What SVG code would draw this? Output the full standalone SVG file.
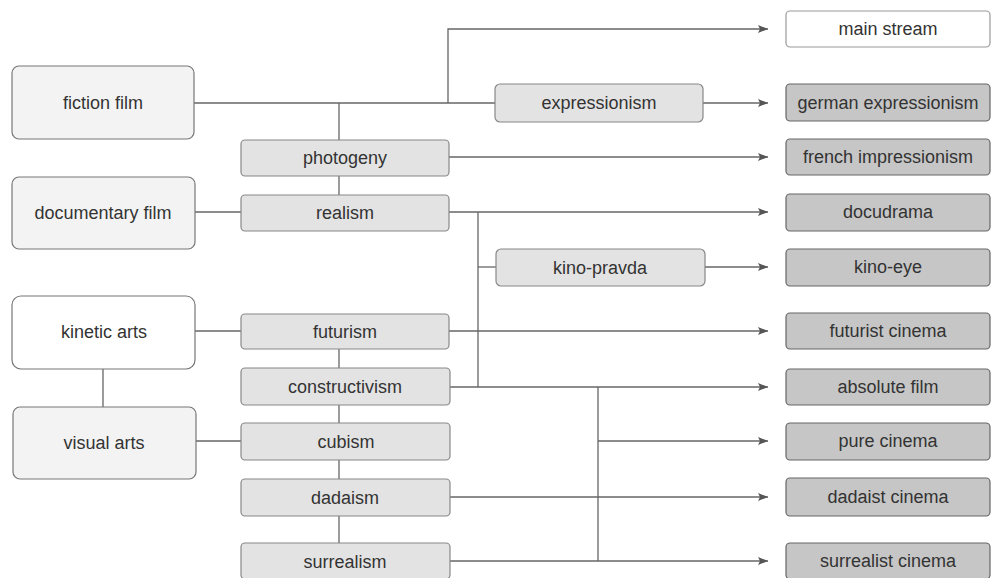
<svg xmlns="http://www.w3.org/2000/svg" width="995" height="578" viewBox="0 0 995 578">
<style>
text{font-family:"Liberation Sans",Arial,sans-serif;font-size:18px;fill:#333;text-anchor:middle;dominant-baseline:central}
.src rect{fill:#f3f3f3;stroke:#777;stroke-width:1.2}
.white rect{fill:#fff}
.mid rect{fill:#e3e3e3;stroke:#888;stroke-width:1.2}
.out rect{fill:#c6c6c6;stroke:#666;stroke-width:1.2}
.outw rect{fill:#fff;stroke:#999;stroke-width:1.2}
#connectors path{fill:none;stroke:#666;stroke-width:1.3}
</style>
<defs>
<marker id="arr" viewBox="0 0 10 8" refX="10" refY="4" markerWidth="10" markerHeight="8" markerUnits="userSpaceOnUse" orient="auto">
<path d="M0,0 L10,4 L0,8 L2,4 Z" fill="#555"/>
</marker>
</defs>
<rect width="995" height="578" fill="#fff"/>
<g id="connectors">
<path d="M194,103 H495"/>
<path d="M448,103 V29 H768" marker-end="url(#arr)"/>
<path d="M703,103 H768" marker-end="url(#arr)"/>
<path d="M339,103 V140"/>
<path d="M339,176 V195"/>
<path d="M449,157 H768" marker-end="url(#arr)"/>
<path d="M195,212 H241"/>
<path d="M449,212 H768" marker-end="url(#arr)"/>
<path d="M478,212 V387"/>
<path d="M478,267 H496"/>
<path d="M705,267 H768" marker-end="url(#arr)"/>
<path d="M195,331 H241"/>
<path d="M449,331 H768" marker-end="url(#arr)"/>
<path d="M339,349 V368"/>
<path d="M103,369 V407"/>
<path d="M450,387 H768" marker-end="url(#arr)"/>
<path d="M339,405 V423"/>
<path d="M196,441 H241"/>
<path d="M598,387 V561"/>
<path d="M598,441 H768" marker-end="url(#arr)"/>
<path d="M339,460 V479"/>
<path d="M450,497 H768" marker-end="url(#arr)"/>
<path d="M339,516 V543"/>
<path d="M450,561 H768" marker-end="url(#arr)"/>
</g>
<g id="fiction-film" class="src"><rect x="12" y="66" width="182" height="73" rx="7"/><text x="103" y="103">fiction film</text></g>
<g id="documentary-film" class="src"><rect x="12" y="177" width="183" height="72" rx="7"/><text x="103" y="213">documentary film</text></g>
<g id="kinetic-arts" class="src white"><rect x="12" y="296" width="183" height="73" rx="9"/><text x="104" y="332">kinetic arts</text></g>
<g id="visual-arts" class="src"><rect x="13" y="407" width="183" height="72" rx="7"/><text x="104" y="443">visual arts</text></g>

<g id="photogeny" class="mid"><rect x="241" y="140" width="208" height="36" rx="4"/><text x="345" y="158">photogeny</text></g>
<g id="realism" class="mid"><rect x="241" y="195" width="208" height="36" rx="4"/><text x="345" y="213">realism</text></g>
<g id="futurism" class="mid"><rect x="241" y="314" width="208" height="35" rx="4"/><text x="345" y="332">futurism</text></g>
<g id="constructivism" class="mid"><rect x="241" y="368" width="209" height="37" rx="4"/><text x="345" y="387">constructivism</text></g>
<g id="cubism" class="mid"><rect x="241" y="423" width="209" height="37" rx="4"/><text x="346" y="442">cubism</text></g>
<g id="dadaism" class="mid"><rect x="241" y="479" width="209" height="37" rx="4"/><text x="345" y="498">dadaism</text></g>
<g id="surrealism" class="mid"><rect x="241" y="543" width="209" height="36" rx="4"/><text x="345" y="562">surrealism</text></g>

<g id="expressionism" class="mid"><rect x="495" y="84" width="208" height="38" rx="5"/><text x="599" y="103">expressionism</text></g>
<g id="kino-pravda" class="mid"><rect x="496" y="249" width="209" height="37" rx="5"/><text x="600" y="268">kino-pravda</text></g>

<g id="main-stream" class="outw"><rect x="786" y="11" width="204" height="36" rx="4"/><text x="888" y="29">main stream</text></g>
<g id="german-expressionism" class="out"><rect x="786" y="84" width="204" height="37" rx="4"/><text x="888" y="103">german expressionism</text></g>
<g id="french-impressionism" class="out"><rect x="786" y="139" width="204" height="36" rx="4"/><text x="888" y="157">french impressionism</text></g>
<g id="docudrama" class="out"><rect x="786" y="194" width="204" height="37" rx="4"/><text x="888" y="212">docudrama</text></g>
<g id="kino-eye" class="out"><rect x="786" y="249" width="204" height="37" rx="4"/><text x="888" y="267">kino-eye</text></g>
<g id="futurist-cinema" class="out"><rect x="786" y="313" width="204" height="36" rx="4"/><text x="888" y="331">futurist cinema</text></g>
<g id="absolute-film" class="out"><rect x="786" y="369" width="204" height="36" rx="4"/><text x="888" y="387">absolute film</text></g>
<g id="pure-cinema" class="out"><rect x="786" y="423" width="204" height="37" rx="4"/><text x="888" y="441">pure cinema</text></g>
<g id="dadaist-cinema" class="out"><rect x="786" y="478" width="204" height="38" rx="4"/><text x="888" y="497">dadaist cinema</text></g>
<g id="surrealist-cinema" class="out"><rect x="786" y="543" width="204" height="36" rx="4"/><text x="888" y="561">surrealist cinema</text></g>
</svg>
